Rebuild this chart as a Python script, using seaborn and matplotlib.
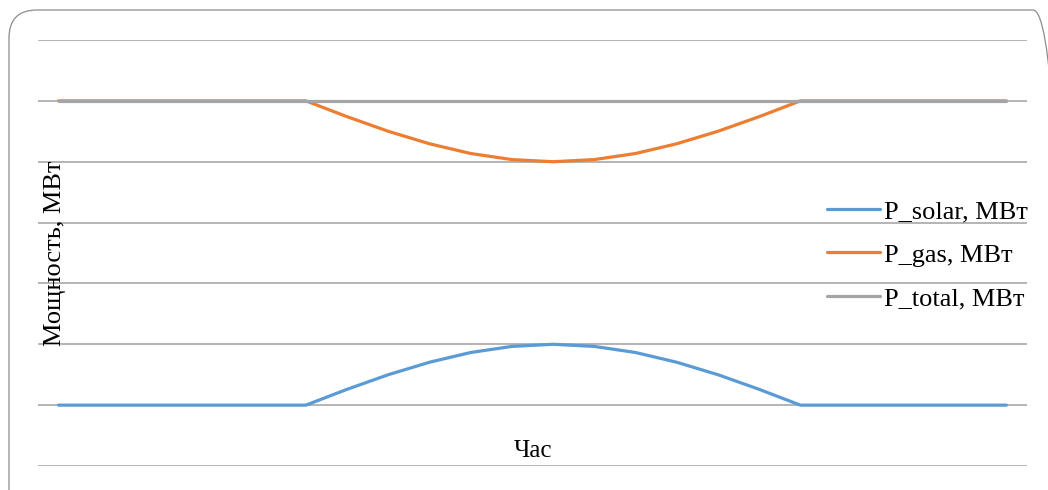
import matplotlib
matplotlib.use('Agg')
import matplotlib.pyplot as plt
from matplotlib.patches import FancyBboxPatch
from matplotlib.transforms import IdentityTransform
import seaborn as sns
import pandas as pd

# hourly values (MW)
hours = list(range(24))
p_solar = [0, 0, 0, 0, 0, 0, 0, 52, 100, 141, 173, 193, 200, 193, 173, 141, 100, 52, 0, 0, 0, 0, 0, 0]
p_gas = [1000, 1000, 1000, 1000, 1000, 1000, 1000, 948, 900, 859, 827, 807, 800, 807, 827, 859, 900, 948,
         1000, 1000, 1000, 1000, 1000, 1000]
p_total = [1000] * 24
series_names = ['P_solar, МВт', 'P_gas, МВт', 'P_total, МВт']
series_colors = ['#5B9BD5', '#ED7D31', '#A5A5A5']

sns.set_style('white')
plt.rcParams['font.family'] = ['Liberation Serif', 'DejaVu Serif']
plt.rcParams['text.color'] = 'black'
plt.rcParams['axes.labelcolor'] = 'black'

df = pd.DataFrame({'hour': hours, series_names[0]: p_solar,
                   series_names[1]: p_gas, series_names[2]: p_total})

fig = plt.figure(figsize=(10.48, 4.9), dpi=100)
ax = fig.add_axes([38 / 1048, 24 / 490, 989 / 1048, 426 / 490])

# rounded chart border (excel chart area), in pixels, runs off right and bottom
border = FancyBboxPatch((9, -40), 1052, 520,
                        boxstyle='round,pad=0,rounding_size=28',
                        transform=IdentityTransform(), fill=False,
                        edgecolor='#8c8c8c', linewidth=0.9)
fig.patches.append(border)

for name, col in zip(series_names, series_colors):
    sns.lineplot(data=df, x='hour', y=name, ax=ax, color=col, linewidth=2.3, label=name)

ax.set_xlim(-0.5, 23.5)
ax.set_ylim(-200, 1200)
ax.set_yticks(range(-200, 1201, 200))
ax.set_xticks([])
ax.tick_params(left=False, bottom=False, labelleft=False, labelbottom=False)
ax.grid(axis='y', color='#a0a0a0', linewidth=1.1)
ax.set_axisbelow(True)
for s in ax.spines.values():
    s.set_visible(False)

ax.set_xlabel('Час', fontsize=18, color='black')
ax.xaxis.set_label_coords(0.5, 0.062)
ax.set_ylabel('')
ax.text(0.006, 0.5, 'Мощность, МВт', rotation=90, ha='left', va='center',
        fontsize=19, color='black', transform=ax.transAxes)

leg = ax.legend(loc='center left', bbox_to_anchor=(827 / 1048, 1 - 255 / 490),
                bbox_transform=fig.transFigure, frameon=False, fontsize=19,
                handlelength=2.0, handletextpad=0.15, labelspacing=0.75,
                borderpad=0, borderaxespad=0)
for t in leg.get_texts():
    t.set_color('black')

fig.savefig('out.png', dpi=100)
